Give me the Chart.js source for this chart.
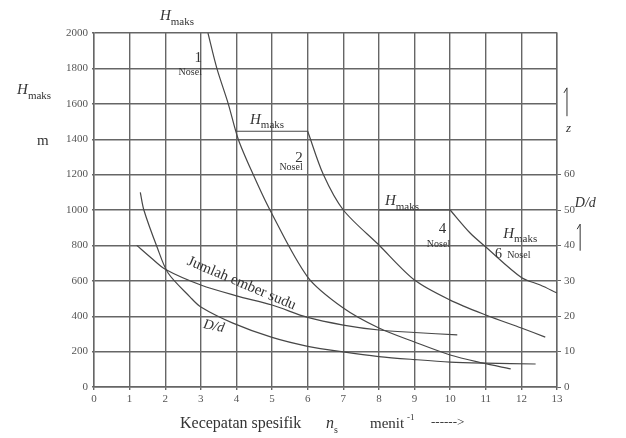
<!DOCTYPE html>
<html>
<head>
<meta charset="utf-8">
<script src="https://cdn.jsdelivr.net/npm/chart.js@4/dist/chart.umd.min.js"></script>
<style>
  html, body { margin: 0; padding: 0; background: #fff; }
</style>
</head>
<body>
<canvas id="chart" width="626" height="438"></canvas>
<script>
// tick values
const xTicks = [0, 1, 2, 3, 4, 5, 6, 7, 8, 9, 10, 11, 12, 13];
const hTicks = [0, 200, 400, 600, 800, 1000, 1200, 1400, 1600, 1800, 2000];
const zTicks = [0, 10, 20, 30, 40, 50, 60];

// H maks curves (m)
const nozzle1X = [3.2, 3.45, 3.77, 4.05, 4.47, 4.94, 6, 7, 8, 9, 10, 10.9, 11.7];
const nozzle1Y = [2000, 1800, 1600, 1400, 1200, 1000, 621, 446, 333, 254, 181, 136, 102];

const nozzle2TopX = [4, 6];
const nozzle2TopY = [1445, 1445];
const nozzle2X = [6, 6.44, 7, 8, 9, 10, 11, 12, 12.67];
const nozzle2Y = [1445, 1200, 1000, 802, 604, 491, 407, 333, 282];

const nozzle4TopX = [8, 10];
const nozzle4TopY = [1000, 1000];
const nozzle4X = [10, 10.56, 11, 12, 12.53, 13];
const nozzle4Y = [1000, 870, 791, 619, 576, 531];

// jumlah ember sudu (z) and D/d, in left-axis units (right axis = left / 20)
const bucketsX = [1.2, 1.6, 2, 3, 4, 5, 6, 7, 8, 9, 10.2];
const bucketsY = [800, 730, 665, 576, 515, 463, 393, 350, 322, 308, 294];

const ratioX = [1.3, 1.4, 1.77, 2.08, 2.7, 3, 3.9, 5, 6, 7, 8, 9, 10, 11, 12.4];
const ratioY = [1100, 1000, 791, 644, 508, 452, 361, 280, 230, 198, 172, 155, 141, 135, 130];

const serif = '"Liberation Serif", "DejaVu Serif", serif';
const lineColor = '#474747';
const gridColor = '#666';
const textColor = '#333';

function series(xs, ys) {
    return {
        data: xs.map((x, i) => ({ x: x, y: ys[i] })),
        showLine: true,
        borderColor: lineColor,
        borderWidth: 1.2,
        pointRadius: 0,
        tension: 0.3,
        fill: false
    };
}

// H with subscript "maks"
function hmaks(ctx, x, y, size) {
    ctx.font = 'italic ' + size + 'px ' + serif;
    ctx.fillText('H', x, y);
    const w = ctx.measureText('H').width;
    ctx.font = Math.round(size * 0.72) + 'px ' + serif;
    ctx.fillText('maks', x + w, y + size * 0.3);
}

function upArrow(ctx, x, y1, y2) {
    ctx.beginPath();
    ctx.moveTo(x, y2);
    ctx.lineTo(x, y1);
    ctx.lineTo(x - 3, y1 + 5);
    ctx.stroke();
}

const textPlugin = {
    id: 'texts',
    afterDraw(chart) {
        const ctx = chart.ctx;
        const X = v => chart.scales.x.getPixelForValue(v);
        const Y = v => chart.scales.y.getPixelForValue(v);
        ctx.save();
        ctx.fillStyle = textColor;
        ctx.strokeStyle = textColor;
        ctx.lineWidth = 1;
        ctx.textBaseline = 'alphabetic';

        // top and left axis labels
        hmaks(ctx, X(1.85), Y(2073), 15);
        hmaks(ctx, X(-2.16), Y(1655), 15);
        ctx.font = '15px ' + serif;
        ctx.fillText('m', X(-1.6), Y(1370));

        // 1 nozzle
        ctx.textAlign = 'right';
        ctx.font = '15px ' + serif;
        ctx.fillText('1', X(3.03), Y(1836));
        ctx.font = '10px ' + serif;
        ctx.fillText('Nosel', X(3.03), Y(1763));

        // 2 nozzles
        ctx.textAlign = 'left';
        hmaks(ctx, X(4.38), Y(1487), 15);
        ctx.textAlign = 'right';
        ctx.font = '15px ' + serif;
        ctx.fillText('2', X(5.86), Y(1271));
        ctx.font = '10px ' + serif;
        ctx.fillText('Nosel', X(5.86), Y(1226));

        // 4 nozzles
        ctx.textAlign = 'left';
        hmaks(ctx, X(8.17), Y(1028), 15);
        ctx.textAlign = 'right';
        ctx.font = '15px ' + serif;
        ctx.fillText('4', X(9.89), Y(870));
        ctx.font = '10px ' + serif;
        ctx.fillText('Nosel', X(10), Y(791));

        // 6 nozzles
        ctx.textAlign = 'left';
        hmaks(ctx, X(11.49), Y(842), 15);
        ctx.font = '14px ' + serif;
        ctx.fillText('6', X(11.26), Y(729));
        ctx.font = '10px ' + serif;
        ctx.fillText('Nosel', X(11.6), Y(729));

        // curve labels
        ctx.save();
        ctx.translate(X(4.1), Y(565));
        ctx.rotate(23 * Math.PI / 180);
        ctx.textAlign = 'center';
        ctx.font = '15px ' + serif;
        ctx.fillText('Jumlah ember sudu', 0, 0);
        ctx.restore();

        ctx.save();
        ctx.translate(X(3.34), Y(322));
        ctx.rotate(12 * Math.PI / 180);
        ctx.textAlign = 'center';
        ctx.font = 'italic 14px ' + serif;
        ctx.fillText('D/d', 0, 0);
        ctx.restore();

        // right side labels
        ctx.textAlign = 'left';
        ctx.font = 'italic 13px ' + serif;
        ctx.fillText('z', X(13.25), Y(1440));
        upArrow(ctx, X(13.28), Y(1690), Y(1530));
        ctx.font = 'italic 14px ' + serif;
        ctx.fillText('D/d', X(13.5), Y(1015));
        upArrow(ctx, X(13.65), Y(920), Y(770));

        // x axis title
        const by = 428;
        ctx.font = '16px ' + serif;
        ctx.fillText('Kecepatan spesifik', 180, by);
        ctx.font = 'italic 16px ' + serif;
        ctx.fillText('n', 326, by);
        ctx.font = '10px ' + serif;
        ctx.fillText('s', 334, by + 5);
        ctx.font = '15px ' + serif;
        ctx.fillText('menit', 370, by);
        ctx.font = '9px ' + serif;
        ctx.fillText('-1', 407, by - 8);
        ctx.font = '13px ' + serif;
        ctx.fillText('------>', 431, by - 2);
        ctx.restore();
    }
};

const tickFont = { family: serif, size: 11 };
const plain = v => String(v);

new Chart(document.getElementById('chart'), {
    type: 'scatter',
    data: {
        datasets: [
            series(nozzle1X, nozzle1Y),
            series(nozzle2TopX, nozzle2TopY),
            series(nozzle2X, nozzle2Y),
            series(nozzle4TopX, nozzle4TopY),
            series(nozzle4X, nozzle4Y),
            series(bucketsX, bucketsY),
            series(ratioX, ratioY)
        ]
    },
    options: {
        responsive: false,
        animation: false,
        layout: { padding: { top: 33, left: 0, right: 0, bottom: 0 } },
        plugins: {
            legend: { display: false },
            tooltip: { enabled: false }
        },
        scales: {
            x: {
                type: 'linear',
                min: 0,
                max: 13,
                afterBuildTicks: s => { s.ticks = xTicks.map(v => ({ value: v })); },
                afterFit: s => { s.height = 51; },
                ticks: { font: tickFont, color: '#555', padding: 3, maxRotation: 0, callback: plain },
                grid: { color: gridColor, lineWidth: 1.4, tickLength: 3 },
                border: { color: gridColor, width: 1.4 }
            },
            y: {
                min: 0,
                max: 2000,
                afterBuildTicks: s => { s.ticks = hTicks.map(v => ({ value: v })); },
                afterFit: s => { s.width = 94; },
                ticks: { font: tickFont, color: '#555', padding: 4, callback: plain },
                grid: { color: gridColor, lineWidth: 1.4, tickLength: 2 },
                border: { color: gridColor, width: 1.4 }
            },
            y2: {
                position: 'right',
                min: 0,
                max: 100,
                afterBuildTicks: s => { s.ticks = zTicks.map(v => ({ value: v })); },
                afterFit: s => { s.width = 69; },
                ticks: { font: tickFont, color: '#555', padding: 3, callback: plain },
                grid: { drawOnChartArea: false, color: gridColor, tickLength: 4 },
                border: { color: gridColor, width: 1.4 }
            }
        }
    },
    plugins: [textPlugin]
});
</script>
</body>
</html>
